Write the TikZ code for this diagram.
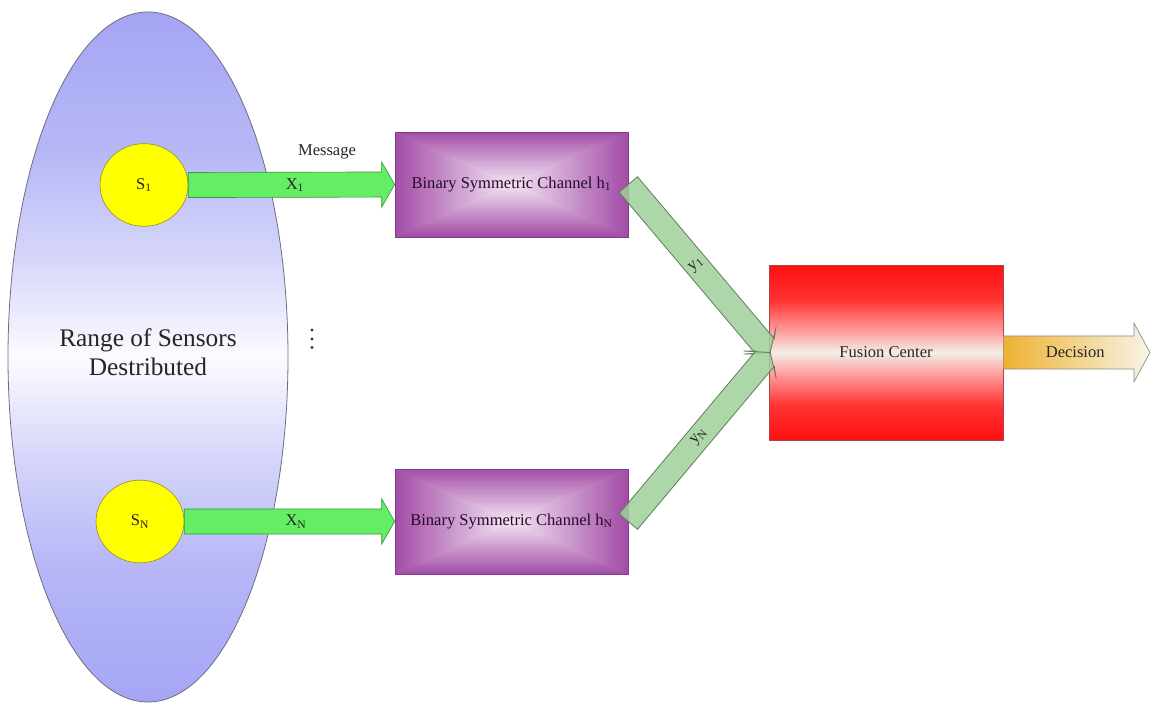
\documentclass[tikz,border=0pt]{standalone}
\usepackage{fontspec}
\setmainfont{Liberation Serif}
\usetikzlibrary{shapes.geometric,calc}

\definecolor{ellc}{RGB}{165,165,245}
\definecolor{ellborder}{RGB}{110,110,130}
\definecolor{sensfill}{RGB}{255,255,0}
\definecolor{sensdraw}{RGB}{150,150,50}
\definecolor{msgfill}{RGB}{100,238,100}
\definecolor{msgdraw}{RGB}{60,150,60}
\definecolor{bscout}{RGB}{163,78,168}
\definecolor{bscin}{RGB}{245,232,245}
\definecolor{bscdraw}{RGB}{130,60,135}
\definecolor{bsctext}{RGB}{40,10,45}
\definecolor{yfill}{RGB}{160,208,155}
\definecolor{ydraw}{RGB}{95,125,90}
\definecolor{fcred}{RGB}{255,15,15}
\definecolor{fcmid}{RGB}{242,238,230}
\definecolor{fcdraw}{RGB}{170,70,70}
\definecolor{decl}{RGB}{238,178,50}
\definecolor{decr}{RGB}{248,244,232}
\definecolor{decdraw}{RGB}{140,140,140}

\pgfdeclareverticalshading{ellshade}{100bp}{color(0bp)=(ellc); color(25bp)=(ellc); color(35bp)=(ellc!80!white); color(43bp)=(ellc!45!white); color(50bp)=(white!96!ellc); color(57bp)=(ellc!45!white); color(65bp)=(ellc!80!white); color(75bp)=(ellc); color(100bp)=(ellc)}
\pgfdeclareverticalshading{fcshade}{100bp}{color(0bp)=(fcred); color(25bp)=(fcred); color(35bp)=(fcred!85!white); color(44bp)=(fcred!40!white); color(50bp)=(fcmid); color(56bp)=(fcred!40!white); color(65bp)=(fcred!85!white); color(75bp)=(fcred); color(100bp)=(fcred)}

% block arrow: #1 from, #2 to, #3 body half width, #4 head half width,
% #5 head base distance from tip, #6 barb distance from tip, #7 style
\newcommand{\blockarrow}[7]{%
  \coordinate (baq) at ($(#2)!#5!(#1)$);
  \coordinate (bab) at ($(#2)!#6!(#1)$);
  \path[#7] ($(#1)!#3!90:(#2)$) -- ($(baq)!#3!-90:(#1)$) -- ($(bab)!#4!-90:(#1)$) -- (#2)
    -- ($(bab)!#4!90:(#1)$) -- ($(baq)!#3!90:(#1)$) -- ($(#1)!#3!-90:(#2)$) -- cycle;
}

\tikzset{
  rangeell/.style={ellipse, draw=ellborder, line width=0.6pt, minimum width=210pt, minimum height=517.5pt, inner sep=0pt, shade, shading=ellshade},
  rangetext/.style={align=center, font=\fontsize{19}{21.75}\selectfont, text=black!85},
  sensor/.style={ellipse, draw=sensdraw, fill=sensfill, minimum width=66pt, minimum height=62pt, inner sep=0pt, line width=0.5pt, text=black!85},
  msgarrow/.style={fill=msgfill, draw=msgdraw, line width=0.5pt},
  lbl/.style={inner sep=1pt, text=black!85},
  bsc/.style={rectangle, draw=bscdraw, line width=0.5pt, minimum width=174.75pt, minimum height=78.75pt, inner sep=0pt, text=bsctext,
    path picture={\foreach \i in {0,...,39}{\pgfmathsetmacro\bscf{1-\i/40}\pgfmathsetmacro\bscp{100*\bscf}%
      \fill[bscout!\bscp!bscin] ($(path picture bounding box.center)!\bscf!(path picture bounding box.south west)$) rectangle ($(path picture bounding box.center)!\bscf!(path picture bounding box.north east)$);}}},
  yarrow/.style={fill=yfill, fill opacity=0.85, draw=ydraw, line width=0.6pt, line join=miter},
  fusion/.style={rectangle, draw=fcdraw, line width=0.5pt, minimum width=175.5pt, minimum height=131pt, inner sep=0pt, shade, shading=fcshade, text=black!85},
  decarrow/.style={left color=decl, right color=decr, draw=decdraw, line width=0.5pt},
}

\begin{document}
\begin{tikzpicture}[x=0.75pt, y=-0.75pt, font=\fontsize{12.4}{14}\selectfont]
\useasboundingbox (0,0) rectangle (1157,706);
\fill[white] (0,0) rectangle (1157,706);

% sensor range
\node[rangeell] (range) at (148,357) {};
\node[rangetext] (rangelbl) at (148,352) {Range of Sensors\\Destributed};

% vertical dots
\fill[black!80] (312,330) circle (1.3pt);
\fill[black!80] (312,339) circle (1.3pt);
\fill[black!80] (312,347.5) circle (1.3pt);

% sensors
\node[sensor] (s1) at (144,185) {S\textsubscript{1}};
\node[sensor] (sN) at (140,521.5) {S\textsubscript{N}};

% channels
\node[bsc] (b1) at (511.5,184.5) {Binary Symmetric Channel h\textsubscript{1}};
\node[bsc] (bN) at (511.5,521.5) {Binary Symmetric Channel h\textsubscript{N}};

% message arrows
\blockarrow{s1.east}{b1.west}{9.4pt}{16.9pt}{9.75pt}{9.75pt}{msgarrow}
\blockarrow{sN.east}{bN.west}{9.4pt}{16.9pt}{9.75pt}{9.75pt}{msgarrow}
\node[lbl] (msg) at (327,152) {Message};
\node[lbl] (x1) at (295,185) {X\textsubscript{1}};
\node[lbl] (xN) at (296,521.5) {X\textsubscript{N}};

% fusion center
\node[fusion] (fc) at (886,352.5) {Fusion Center};
\coordinate (ytip) at ($(fc.west)+(1.5,0)$);
\coordinate (dtip) at (1150,352.5);

% channel outputs
\blockarrow{b1.east}{ytip}{9pt}{16pt}{6pt}{12pt}{yarrow}
\blockarrow{bN.east}{ytip}{9pt}{16pt}{6pt}{12pt}{yarrow}
\node[lbl, rotate=40] (y1) at ($(b1.east)!0.48!(ytip)$) {y\textsubscript{1}};
\node[lbl, rotate=50] (yN) at ($(bN.east)!0.5!(ytip)$) {y\textsubscript{N}};

% decision
\blockarrow{fc.east}{dtip}{12.4pt}{22pt}{12pt}{12pt}{decarrow}
\node[lbl] (dec) at ($(fc.east)!0.49!(dtip)$) {Decision};
\end{tikzpicture}
\end{document}
